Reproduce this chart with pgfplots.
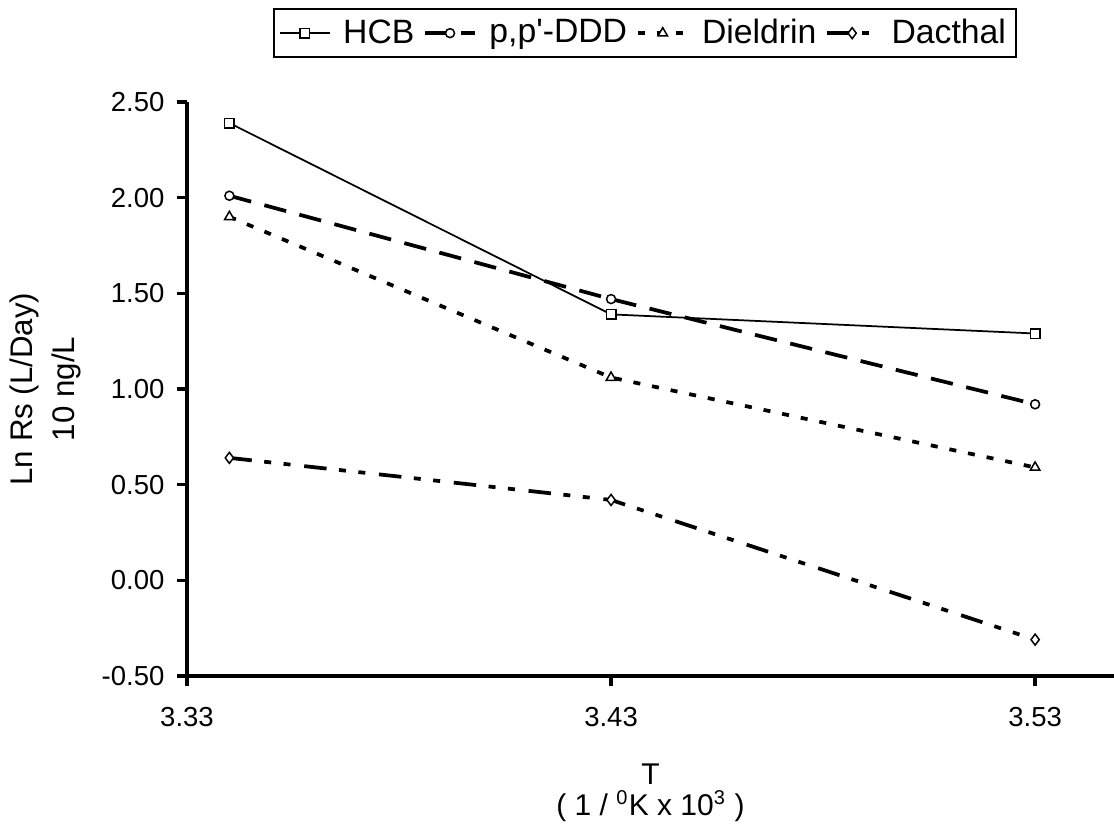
\documentclass[border=0pt]{standalone}
\usepackage{fontspec}
\setmainfont{Liberation Sans}
\usepackage{pgfplots}
\pgfplotsset{compat=1.18}

% ln Rs vs 1/T, one table per compound
\pgfplotstableread{
x y
3.34 2.39
3.43 1.39
3.53 1.29
}\hcb
\pgfplotstableread{
x y
3.34 2.01
3.43 1.47
3.53 0.92
}\ddd
\pgfplotstableread{
x y
3.34 1.90
3.43 1.06
3.53 0.59
}\dieldrin
\pgfplotstableread{
x y
3.34 0.64
3.43 0.42
3.53 -0.31
}\dacthal

\begin{document}
\begin{tikzpicture}
\begin{axis}[
  scale only axis,
  width=370.8pt, height=229.6pt,
  xmin=3.33, xmax=3.5486, ymin=-0.5, ymax=2.5,
  axis x line*=bottom, axis y line*=left,
  axis line style={-, line width=1.6pt},
  xtick={3.33,3.43,3.53},
  ytick={-0.5,0,0.5,1,1.5,2,2.5},
  tick align=outside, major tick length=4pt,
  tick style={line width=1.4pt, black},
  /pgf/number format/fixed,
  /pgf/number format/fixed zerofill,
  /pgf/number format/precision=2,
  /pgf/number format/assume math mode=true,
  ticklabel style={font=\fontsize{11}{13}\selectfont},
  xticklabel style={yshift=-5pt},
  yticklabel style={xshift=-1.5pt},
  xlabel={T\\( 1 / \textsuperscript{0}K x 10\textsuperscript{3} )},
  xlabel style={at={(axis description cs:0.5,0)}, anchor=north, inner sep=0pt,
    yshift=-34.8pt, align=center, font=\fontsize{12}{12.5}\selectfont},
  ylabel={Ln Rs (L/Day)\\10 ng/L},
  ylabel style={at={(axis description cs:-0.1143,0.5)}, anchor=south, inner sep=0pt,
    align=center, font=\fontsize{12.5}{16.8}\selectfont},
  legend columns=4,
  legend image code/.code={%
    \draw[mark repeat=2, mark phase=2, #1] plot coordinates {(0pt,0pt) (10pt,0pt) (20pt,0pt)};},
  legend style={at={(0.494,1)}, anchor=south, yshift=17.6pt, draw=black, line width=0.6pt,
    font=\fontsize{13.5}{15}\selectfont, inner sep=2pt,
    /tikz/every even column/.append style={column sep=1.5pt},
    /tikz/every odd column/.append style={column sep=3pt}},
  mark options={solid, fill=white, line width=0.6pt},
]
\addplot[black, line width=0.7pt, mark=square*, mark size=1.9pt] table {\hcb};
\addlegendentry{HCB}
\addplot[black, line width=1.5pt, dash pattern=on 9pt off 5.5pt, mark=*, mark size=1.8pt] table {\ddd};
\addlegendentry{p,p\textquotesingle-DDD}
\addplot[black, line width=1.5pt, dash pattern=on 2.8pt off 4.8pt, mark=triangle*, mark size=2.2pt] table {\dieldrin};
\addlegendentry{Dieldrin}
\addplot[black, line width=1.5pt, dash pattern=on 9pt off 5pt on 2.8pt off 5pt on 2.8pt off 5.5pt, mark=diamond*, mark size=2.2pt] table {\dacthal};
\addlegendentry{Dacthal}
\end{axis}
\pgfresetboundingbox
\path (-74.8pt,-63.6pt) rectangle (370.8pt,270.4pt);
\end{tikzpicture}
\end{document}
